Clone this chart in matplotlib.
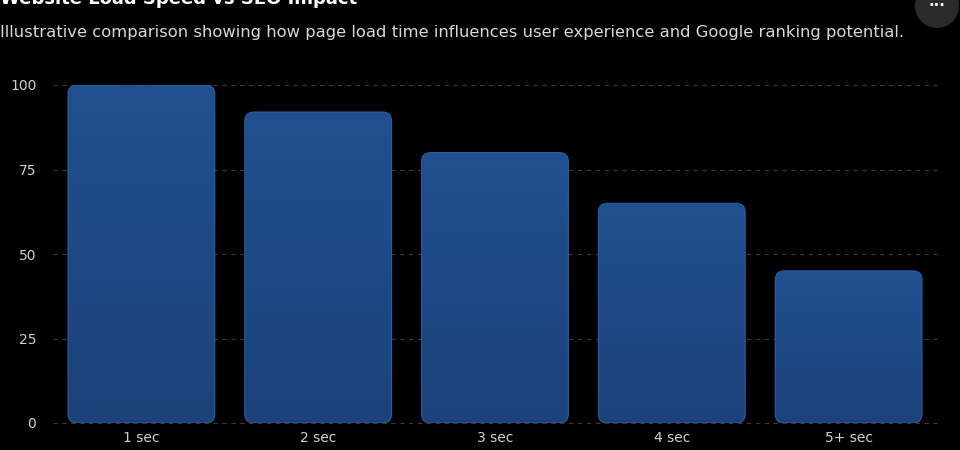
import matplotlib
matplotlib.use("Agg")
import matplotlib.pyplot as plt
from matplotlib.patches import FancyBboxPatch, Ellipse
from matplotlib.colors import LinearSegmentedColormap
import numpy as np

categories = ["1 sec", "2 sec", "3 sec", "4 sec", "5+ sec"]
values = [100, 92, 80, 65, 45]
yticks = [0, 25, 50, 75, 100]

W, H = 960, 450
fig = plt.figure(figsize=(W/100, H/100), dpi=100, facecolor="black")
left, right, bot, top = 53, 937, 423, 85
ax = fig.add_axes([left/W, 1-bot/H, (right-left)/W, (bot-top)/H], facecolor="black")
for s in ax.spines.values():
    s.set_visible(False)
for y in yticks:
    ax.axhline(y, color="#3a3a3a", lw=0.8, ls=(0, (4, 4)), zorder=0, clip_on=False)
ax.set_yticks(yticks)
ax.set_xticks(range(len(categories)))
ax.set_xticklabels(categories)
ax.tick_params(colors="#d0d0d0", labelsize=10, length=0, pad=6)
ax.tick_params(axis="y", pad=12)

xpp = 1/176.75
ypp = 100/338
aspect = ypp/xpp
bw = 0.83
grad = np.linspace(0, 1, 256).reshape(-1, 1)
cmap = LinearSegmentedColormap.from_list("g", ["#1c427a", "#20508f"])
for i, v in enumerate(values):
    p = FancyBboxPatch((i-bw/2, 0), bw, v, boxstyle=f"round,pad=0,rounding_size={9*xpp}",
                       mutation_aspect=aspect, fc="none", ec="#2b5ea3", lw=0.8, zorder=3)
    ax.add_patch(p)
    im = ax.imshow(grad, cmap=cmap, extent=(i-bw/2, i+bw/2, 0, v), origin="lower",
                   aspect="auto", zorder=2)
    im.set_clip_path(p)
ax.set_xlim(-0.5, len(categories)-0.5)
ax.set_ylim(0, 100)

fig.text(0, 1-(-1)/H, "Website Load Speed vs SEO Impact", color="white", fontsize=13,
         fontweight="bold", va="center", ha="left")
fig.text(0, 1-33/H, "Illustrative comparison showing how page load time influences user experience and Google ranking potential.",
         color="#d8d8d8", fontsize=11.8, va="center", ha="left")
c = Ellipse((937/W, 1-6/H), 44/W, 44/H, transform=fig.transFigure, fc="#2b2b2b", ec="none")
fig.patches.append(c)
fig.text(937/W, 1-5/H, "···", color="white", fontsize=11, ha="center", va="center", fontweight="bold")
fig.savefig("out.png", dpi=100, facecolor="black")
